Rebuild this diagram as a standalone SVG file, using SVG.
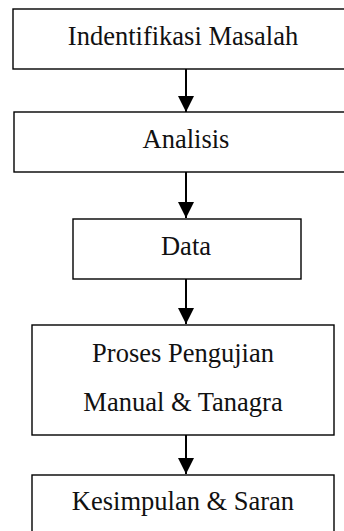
<svg xmlns="http://www.w3.org/2000/svg" width="344" height="531" viewBox="0 0 344 531">
<style>
.box{fill:#fff;stroke:#000;stroke-width:1.4}
.t{font-family:'Liberation Serif','Times New Roman',Times,'DejaVu Serif',serif;font-size:26.5px;fill:#111;text-anchor:middle}
.c{stroke:#000;stroke-width:2;fill:none}
</style>
<defs>
<marker id="ah" markerUnits="userSpaceOnUse" markerWidth="16" markerHeight="17" refX="16" refY="8" orient="auto" viewBox="0 0 16 16">
<path d="M0,0 L16,8 L0,16 Z" fill="#000"/>
</marker>
</defs>
<rect width="344" height="531" fill="#fff"/>
<g id="n1"><rect class="box" x="13" y="9" width="340" height="60"/><text class="t" x="183" y="45">Indentifikasi Masalah</text></g>
<g id="n2"><rect class="box" x="14" y="112" width="340" height="60"/><text class="t" x="186" y="148">Analisis</text></g>
<g id="n3"><rect class="box" x="73" y="219" width="228" height="60"/><text class="t" x="186" y="255">Data</text></g>
<g id="n4"><rect class="box" x="32" y="325" width="302" height="110"/><text class="t" x="183" y="362">Proses Pengujian</text><text class="t" x="183" y="411">Manual &amp; Tanagra</text></g>
<g id="n5"><rect class="box" x="32" y="475" width="302" height="70"/><text class="t" x="183" y="510">Kesimpulan &amp; Saran</text></g>
<g id="connectors">
<line class="c" x1="186" y1="69" x2="186" y2="112" marker-end="url(#ah)"/>
<line class="c" x1="186" y1="172" x2="186" y2="218" marker-end="url(#ah)"/>
<line class="c" x1="186" y1="279" x2="186" y2="324" marker-end="url(#ah)"/>
<line class="c" x1="186" y1="435" x2="186" y2="474" marker-end="url(#ah)"/>
</g>
</svg>
